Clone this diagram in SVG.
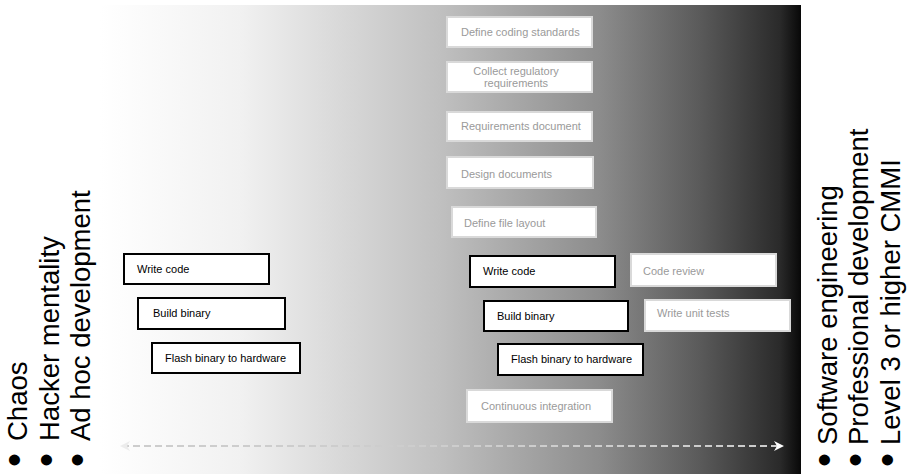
<svg xmlns="http://www.w3.org/2000/svg" width="908" height="474" viewBox="0 0 908 474">
<defs>
<linearGradient id="bg" x1="0" y1="0" x2="1" y2="0">
<stop offset="0" stop-color="#ffffff"/>
<stop offset="0.2" stop-color="#f1f1f1"/>
<stop offset="0.485" stop-color="#c0c0c0"/>
<stop offset="0.713" stop-color="#8c8c8c"/>
<stop offset="0.856" stop-color="#5a5a5a"/>
<stop offset="0.97" stop-color="#2a2a2a"/>
<stop offset="1" stop-color="#080808"/>
</linearGradient>
<marker id="ahR" viewBox="0 0 10 10" refX="8" refY="5" markerWidth="5" markerHeight="5" orient="auto" markerUnits="strokeWidth">
<path d="M0,0 L10,5 L0,10 L3,5 Z" fill="#ffffff"/>
</marker>
<marker id="ahL" viewBox="0 0 10 10" refX="2" refY="5" markerWidth="5" markerHeight="5" orient="auto" markerUnits="strokeWidth">
<path d="M10,0 L0,5 L10,10 L7,5 Z" fill="#ececec"/>
</marker>
</defs>
<style>
.bk rect{fill:#fff;stroke:#000;stroke-width:2}
.gr rect{fill:#fff;stroke:#d9d9d9;stroke-width:2}
.bk text{font-family:"Liberation Sans",Arial,sans-serif;font-size:11px;fill:#000}
.gr text{font-family:"Liberation Sans",Arial,sans-serif;font-size:11px;fill:#9a9a9a}
.side{font-family:"Liberation Sans",Arial,sans-serif;font-size:27.5px;fill:#000}
.bul{font-family:"Liberation Sans",Arial,sans-serif;font-size:40px;fill:#000}
</style>
<rect x="100" y="5" width="701" height="469" fill="url(#bg)"/>

<g id="connectors">
<line x1="122" y1="446" x2="782" y2="446" stroke="#cdcdcd" stroke-width="2" stroke-dasharray="7 4" marker-start="url(#ahL)" marker-end="url(#ahR)"/>
</g>

<g id="left-labels">
<g transform="translate(27,467) rotate(-90)"><text class="bul" x="0" y="1">•</text><text class="side" x="26" y="0">Chaos</text></g>
<g transform="translate(59,467) rotate(-90)"><text class="bul" x="0" y="1">•</text><text class="side" x="26" y="0">Hacker mentality</text></g>
<g transform="translate(90,467) rotate(-90)"><text class="bul" x="0" y="1">•</text><text class="side" x="26" y="0">Ad hoc development</text></g>
</g>
<g id="right-labels">
<g transform="translate(837,467) rotate(-90)"><text class="bul" x="0" y="1">•</text><text class="side" x="22" y="0">Software engineering</text></g>
<g transform="translate(868,467) rotate(-90)"><text class="bul" x="0" y="1">•</text><text class="side" x="22" y="0">Professional development</text></g>
<g transform="translate(900,467) rotate(-90)"><text class="bul" x="0" y="1">•</text><text class="side" x="22" y="0">Level 3 or higher CMMI</text></g>
</g>

<g id="l-write" class="bk"><rect x="124" y="254" width="145" height="30"/><text x="137" y="273">Write code</text></g>
<g id="l-build" class="bk"><rect x="138" y="298" width="147" height="31"/><text x="153" y="317">Build binary</text></g>
<g id="l-flash" class="bk"><rect x="152" y="343" width="148" height="30"/><text x="165" y="362">Flash binary to hardware</text></g>

<g id="coding-standards" class="gr"><rect x="447" y="17" width="145" height="30"/><text x="461" y="36">Define coding standards</text></g>
<g id="regulatory" class="gr"><rect x="447" y="62" width="145" height="30"/><text x="516" y="75" text-anchor="middle">Collect regulatory</text><text x="516" y="87" text-anchor="middle">requirements</text></g>
<g id="req-doc" class="gr"><rect x="447" y="112" width="145" height="29"/><text x="461" y="130">Requirements document</text></g>
<g id="design-docs" class="gr"><rect x="447" y="157" width="146" height="31"/><text x="461" y="178">Design documents</text></g>
<g id="file-layout" class="gr"><rect x="452" y="207" width="144" height="30"/><text x="464" y="227">Define file layout</text></g>

<g id="r-write" class="bk"><rect x="470" y="256" width="145" height="31"/><text x="483" y="275">Write code</text></g>
<g id="r-build" class="bk"><rect x="484" y="301" width="144" height="30"/><text x="497" y="320">Build binary</text></g>
<g id="r-flash" class="bk"><rect x="498" y="344" width="145" height="31"/><text x="511" y="363">Flash binary to hardware</text></g>

<g id="code-review" class="gr"><rect x="631" y="254" width="145" height="32"/><text x="643" y="275">Code review</text></g>
<g id="unit-tests" class="gr"><rect x="645" y="300" width="145" height="31"/><text x="657" y="317">Write unit tests</text></g>
<g id="ci" class="gr"><rect x="467" y="390" width="145" height="32"/><text x="481" y="410">Continuous integration</text></g>
</svg>
